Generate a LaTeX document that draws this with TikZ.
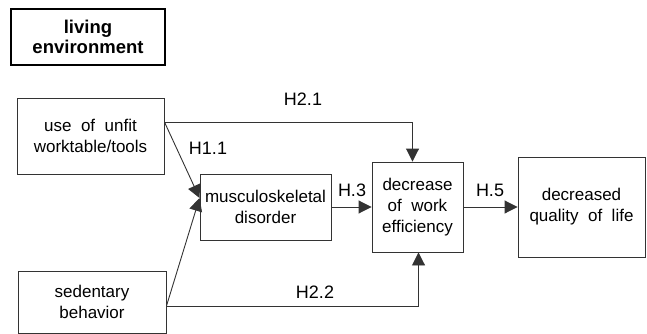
\documentclass[tikz,border=0pt]{standalone}
\usepackage{fontspec}
\setmainfont{Liberation Sans}
\usetikzlibrary{arrows.meta,positioning,calc}

\begin{document}
\begin{tikzpicture}[
    x=1pt,y=-1pt,
    font=\fontsize{17}{21}\selectfont,
    inner sep=1pt, %text may run close to the frame
    box/.style={draw=black!80,line width=0.9pt,align=center},
    envbox/.style={draw=black,line width=2.6pt,align=center,
        font=\fontsize{18.5}{20}\selectfont\bfseries},
    lbl/.style={inner sep=0pt,font=\fontsize{18}{21}\selectfont},
    link/.style={draw=black!80,line width=0.9pt},
    >={Triangle[length=13pt,width=13pt]},
    ]
    \useasboundingbox (0,0) rectangle (647,334);
    \node[envbox,minimum width=154pt,minimum height=56pt] (env) at (88,37)
        {living\\environment};
    \node[box,minimum width=147pt,minimum height=76pt] (unfit) at (90.5,136)
        {use\ \ of\ \ unfit\\worktable/tools};
    \node[box,minimum width=148pt,minimum height=62pt] (sed) at (92,302)
        {sedentary\\behavior};
    \node[box,minimum width=131pt,minimum height=66pt] (msk) at (265.5,207)
        {musculoskeletal\\disorder};
    \node[box,minimum width=91pt,minimum height=90pt] (dec) at (417.5,207)
        {decrease\\of\ \ work\\efficiency};
    \node[box,minimum width=127pt,minimum height=100pt] (qol) at (581.5,207)
        {decreased\\quality\ \ of\ \ life};
    % points where the links leave the boxes
    \coordinate (u1) at ([yshift=14pt]unfit.east);
    \coordinate (s1) at ([yshift=-4pt]sed.east);
    \coordinate (m1) at ([yshift=9pt]msk.west);
    \draw[link,->] (u1) -| ([xshift=-5pt]dec.north);
    \draw[link,->] (u1) -- (m1);
    \draw[link,->] (s1) -- (m1);
    \draw[link,->] (s1) -| ([xshift=1pt]dec.south);
    \draw[link,->] (msk.east) -- (dec.west);
    \draw[link,->] (dec.east) -- (qol.west);
    \node[lbl] (h21) at (303,99) {H2.1};
    \node[lbl] (h11) at (208,148) {H1.1};
    \node[lbl] (h22) at (315,292) {H2.2};
    \node[lbl] (h3) at (352,190) {H.3};
    \node[lbl] (h5) at (490,190) {H.5};
\end{tikzpicture}
\end{document}
